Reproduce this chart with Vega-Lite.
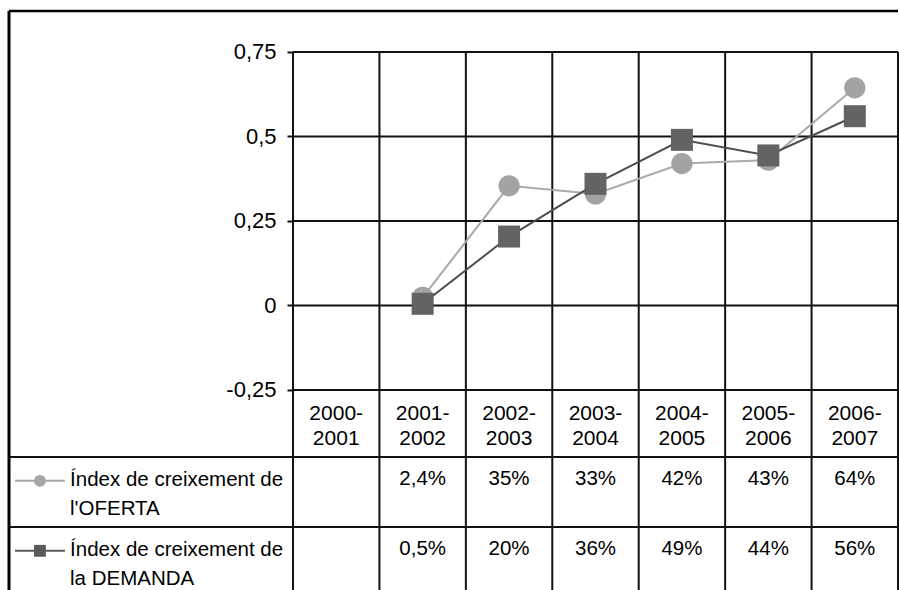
{
  "$schema": "https://vega.github.io/schema/vega-lite/v6.json",
  "width": 889,
  "height": 579,
  "autosize": {"type": "none"},
  "padding": {"left": 9, "top": 11, "right": 1, "bottom": 0},
  "background": "white",
  "config": {
    "view": {"stroke": null},
    "font": "Liberation Sans",
    "locale": {"number": {"decimal": ",", "thousands": ".", "grouping": [3], "currency": ["", " €"], "minus": "-"}}
  },
  "datasets": {
    "dades": [
      {"periode": "2000-2001", "serie": "OFERTA", "valor": null},
      {"periode": "2000-2001", "serie": "DEMANDA", "valor": null},
      {"periode": "2001-2002", "serie": "OFERTA", "valor": 0.024},
      {"periode": "2001-2002", "serie": "DEMANDA", "valor": 0.005},
      {"periode": "2002-2003", "serie": "OFERTA", "valor": 0.354},
      {"periode": "2002-2003", "serie": "DEMANDA", "valor": 0.204},
      {"periode": "2003-2004", "serie": "OFERTA", "valor": 0.33},
      {"periode": "2003-2004", "serie": "DEMANDA", "valor": 0.36},
      {"periode": "2004-2005", "serie": "OFERTA", "valor": 0.42},
      {"periode": "2004-2005", "serie": "DEMANDA", "valor": 0.49},
      {"periode": "2005-2006", "serie": "OFERTA", "valor": 0.43},
      {"periode": "2005-2006", "serie": "DEMANDA", "valor": 0.444},
      {"periode": "2006-2007", "serie": "OFERTA", "valor": 0.644},
      {"periode": "2006-2007", "serie": "DEMANDA", "valor": 0.56}
    ],
    "series": [
      {"serie": "OFERTA", "nom": "Índex de creixement de\nl'OFERTA"},
      {"serie": "DEMANDA", "nom": "Índex de creixement de\nla DEMANDA"}
    ],
    "nivells": [
      {"nivell": 0.75}, {"nivell": 0.5}, {"nivell": 0.25}, {"nivell": 0}, {"nivell": -0.25}
    ]
  },
  "data": {"name": "dades"},
  "resolve": {"scale": {"x": "independent", "y": "independent"}},
  "layer": [
    {
      "layer": [
        {
          "data": {"values": [{}]},
          "mark": {"type": "rule", "color": "black", "strokeWidth": 2.5},
          "encoding": {
            "y": {"datum": 0.8713, "type": "quantitative", "scale": {"domain": [-0.84172, 0.8713], "nice": false, "zero": false}}
          }
        },
        {
          "transform": [{"filter": "datum.serie === 'OFERTA'"}],
          "mark": {"type": "rule", "color": "#111111", "strokeWidth": 2},
          "encoding": {
            "x": {
              "field": "periode", "type": "nominal", "bandPosition": 0,
              "scale": {"type": "band", "domain": ["2000-2001", "2001-2002", "2002-2003", "2003-2004", "2004-2005", "2005-2006", "2006-2007"], "range": [284, 889], "paddingInner": 0, "paddingOuter": 0},
              "axis": {"orient": "bottom", "offset": -200, "ticks": false, "domain": false, "grid": false, "labelExpr": "[slice(datum.label,0,5), slice(datum.label,5)]", "labelFontSize": 21, "labelLineHeight": 25.5, "labelPadding": 12, "labelColor": "black", "labelAngle": 0, "labelOverlap": false, "title": null}
            },
            "y": {"datum": 0.75, "type": "quantitative"},
            "y2": {"datum": -0.84172}
          }
        },
        {
          "data": {"values": [{}]},
          "mark": {"type": "rule", "color": "#111111", "strokeWidth": 2},
          "encoding": {
            "x": {"datum": "2006-2007", "type": "nominal", "bandPosition": 1},
            "y": {"datum": 0.75, "type": "quantitative"},
            "y2": {"datum": -0.84172}
          }
        },
        {
          "data": {"name": "nivells"},
          "mark": {"type": "rule", "color": "#111111", "strokeWidth": 2},
          "encoding": {
            "x": {"datum": "2000-2001", "type": "nominal", "bandPosition": 0},
            "x2": {"datum": "2006-2007", "bandPosition": 1},
            "y": {
              "field": "nivell", "type": "quantitative",
              "axis": {"orient": "left", "offset": -284, "values": [-0.25, 0, 0.25, 0.5, 0.75], "format": ".2~g", "domain": false, "grid": false, "ticks": true, "tickSize": 6, "tickWidth": 2, "tickColor": "#111111", "labelFontSize": 22, "labelColor": "black", "labelPadding": 11, "title": null}
            }
          }
        },
        {
          "transform": [{"filter": "datum.serie === 'OFERTA' && datum.valor != null"}],
          "mark": {"type": "line", "color": "#a9a9a9", "strokeWidth": 2},
          "encoding": {
            "x": {"field": "periode", "type": "nominal"},
            "y": {"field": "valor", "type": "quantitative"}
          }
        },
        {
          "transform": [{"filter": "datum.serie === 'OFERTA' && datum.valor != null"}],
          "mark": {"type": "point", "shape": "circle", "filled": true, "size": 452, "color": "#a3a3a3", "opacity": 1},
          "encoding": {
            "x": {"field": "periode", "type": "nominal"},
            "y": {"field": "valor", "type": "quantitative"}
          }
        },
        {
          "transform": [{"filter": "datum.serie === 'DEMANDA' && datum.valor != null"}],
          "mark": {"type": "line", "color": "#4d4d4d", "strokeWidth": 2},
          "encoding": {
            "x": {"field": "periode", "type": "nominal"},
            "y": {"field": "valor", "type": "quantitative"}
          }
        },
        {
          "transform": [{"filter": "datum.serie === 'DEMANDA' && datum.valor != null"}],
          "mark": {"type": "point", "shape": "square", "filled": true, "size": 484, "color": "#636363", "opacity": 1},
          "encoding": {
            "x": {"field": "periode", "type": "nominal"},
            "y": {"field": "valor", "type": "quantitative"}
          }
        }
      ]
    },
    {
      "layer": [
        {
          "transform": [{"filter": "datum.valor != null"}],
          "mark": {"type": "text", "fontSize": 20.5, "baseline": "alphabetic", "align": "center", "color": "black"},
          "encoding": {
            "x": {
              "field": "periode", "type": "nominal",
              "scale": {"type": "band", "domain": ["2000-2001", "2001-2002", "2002-2003", "2003-2004", "2004-2005", "2005-2006", "2006-2007"], "range": [284, 889], "paddingInner": 0, "paddingOuter": 0},
              "axis": null
            },
            "y": {
              "field": "serie", "type": "nominal", "bandPosition": 0.4,
              "scale": {"type": "band", "domain": ["OFERTA", "DEMANDA"], "range": [446, 586], "paddingInner": 0, "paddingOuter": 0},
              "axis": null
            },
            "text": {
              "condition": {"test": "datum.valor < 0.1", "field": "valor", "type": "quantitative", "format": ".1%"},
              "field": "valor", "type": "quantitative", "format": ".0%"
            }
          }
        },
        {
          "transform": [{"filter": "datum.periode === '2000-2001'"}],
          "mark": {"type": "rule", "color": "#111111", "strokeWidth": 2},
          "encoding": {
            "y": {"field": "serie", "type": "nominal", "bandPosition": 0}
          }
        }
      ]
    },
    {
      "data": {"name": "series"},
      "layer": [
        {
          "data": {"values": [{}]},
          "mark": {"type": "rule", "color": "black", "strokeWidth": 3},
          "encoding": {
            "x": {
              "datum": "llegenda", "type": "nominal", "bandPosition": 0,
              "scale": {"type": "band", "domain": ["llegenda"], "range": [0, 284], "paddingInner": 0, "paddingOuter": 0},
              "axis": null
            }
          }
        },
        {
          "mark": {"type": "rule", "strokeWidth": 2},
          "encoding": {
            "x": {"datum": "llegenda", "type": "nominal", "bandPosition": 0.0211},
            "x2": {"datum": "llegenda", "bandPosition": 0.197},
            "y": {
              "field": "serie", "type": "nominal", "bandPosition": 0.34,
              "scale": {"type": "band", "domain": ["OFERTA", "DEMANDA"], "range": [446, 586], "paddingInner": 0, "paddingOuter": 0},
              "axis": null
            },
            "color": {"field": "serie", "type": "nominal", "scale": {"domain": ["OFERTA", "DEMANDA"], "range": ["#a6a6a6", "#5a5a5a"]}, "legend": null}
          }
        },
        {
          "mark": {"type": "point", "filled": true, "size": 140, "opacity": 1},
          "encoding": {
            "x": {"datum": "llegenda", "type": "nominal", "bandPosition": 0.109},
            "y": {"field": "serie", "type": "nominal", "bandPosition": 0.34},
            "color": {"field": "serie", "type": "nominal", "legend": null},
            "shape": {"field": "serie", "type": "nominal", "scale": {"domain": ["OFERTA", "DEMANDA"], "range": ["circle", "square"]}, "legend": null}
          }
        },
        {
          "mark": {"type": "text", "align": "left", "baseline": "alphabetic", "fontSize": 20.5, "lineBreak": "\n", "lineHeight": 28.5, "color": "black"},
          "encoding": {
            "x": {"datum": "llegenda", "type": "nominal", "bandPosition": 0.215},
            "y": {"field": "serie", "type": "nominal", "bandPosition": 0.415},
            "text": {"field": "nom", "type": "nominal"}
          }
        }
      ]
    }
  ]
}
